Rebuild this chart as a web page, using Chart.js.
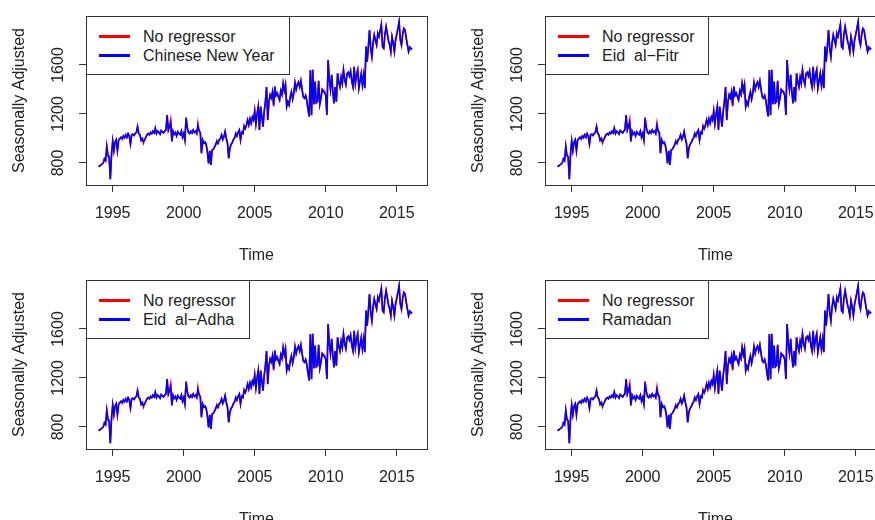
<!DOCTYPE html>
<html lang="en">
<head>
  <meta charset="UTF-8">
  <title>Seasonally adjusted series with holiday regressors</title>
  <script src="https://cdn.jsdelivr.net/npm/chart.js"></script>
  <style>
    html, body {
      margin: 0;
      padding: 0;
      background: #fff;
    }
    body {
      width: 875px;
      height: 520px;
      overflow: hidden;
      position: relative;
      font-family: "Liberation Sans", Arial, sans-serif;
    }
    .panel {
      position: absolute;
      width: 460px;
      height: 265px;
    }
    .legend {
      position: absolute;
      left: 86px;
      top: 16px;
      background: #fff;
      border: 1px solid #333;
      padding: 10px 14px 9px 12px;
      font-size: 16px;
      color: #222;
      white-space: pre;
    }
    .legend .row {
      height: 19px;
      line-height: 19px;
      display: flex;
      align-items: center;
    }
    .legend .swatch {
      width: 31px;
      height: 3px;
      margin-right: 13px;
    }
  </style>
</head>
<body>
  <div class="panel" style="left:0;top:0"><canvas id="c1" width="460" height="265"></canvas><div class="legend" id="l1"></div></div>
  <div class="panel" style="left:459px;top:0"><canvas id="c2" width="460" height="265"></canvas><div class="legend" id="l2"></div></div>
  <div class="panel" style="left:0;top:264px"><canvas id="c3" width="460" height="265"></canvas><div class="legend" id="l3"></div></div>
  <div class="panel" style="left:459px;top:264px"><canvas id="c4" width="460" height="265"></canvas><div class="legend" id="l4"></div></div>

  <script>
    // monthly series, starting January 1994
    const startYear = 1994;

    // seasonally adjusted values (with holiday regressor)
    const sa1994to1998 = [
      770, 775, 785, 790, 800, 835, 820, 935, 860, 850, 668, 870,
      980, 900, 970, 990, 900, 985, 1000, 1010, 995, 1020, 1005, 1030,
      1010, 1040, 1020, 955, 1030, 1035, 1025, 1040, 1050, 1096, 1040, 1030,
      985, 1000, 975, 990, 1010, 1030, 1040, 1030, 1050, 1040, 1060, 1045,
      1085, 1040, 1060, 1050, 1035, 1065, 1055, 1045, 1060, 1070, 1192, 1069
    ];
    const sa1999to2003 = [
      1100, 1130, 975, 1060, 1035, 1050, 1020, 1055, 1040, 1030, 1060, 1010,
      1040, 988, 1165, 1090, 1050, 1040, 1060, 1045, 1070, 1050, 1060, 1040,
      1105, 1060, 1050, 879, 988, 960, 970, 950, 892, 797, 900, 784,
      906, 910, 930, 950, 974, 960, 990, 1000, 1029, 990, 1015, 1056,
      1000, 960, 838, 920, 950, 965, 990, 1005, 1042, 1020, 1050, 1069
    ];
    const sa2004to2008 = [
      988, 1050, 1040, 1096, 1080, 1110, 1151, 1110, 1160, 1125, 1175, 1150,
      1219, 1120, 1200, 1260, 1069, 1260, 1178, 1096, 1220, 1300, 1420, 1150,
      1300, 1355, 1330, 1380, 1273, 1423, 1350, 1370, 1340, 1314, 1390, 1360,
      1450, 1390, 1440, 1260, 1300, 1273, 1340, 1380, 1320, 1370, 1451, 1400,
      1440, 1460, 1420, 1470, 1400, 1340, 1328, 1350, 1310, 1240, 1180, 1559
    ];
    const sa2009to2013 = [
      1190, 1560, 1280, 1464, 1290, 1300, 1470, 1280, 1330, 1400, 1382, 1380,
      1350, 1192, 1641, 1480, 1400, 1520, 1380, 1287, 1420, 1300, 1532, 1460,
      1420, 1500, 1450, 1559, 1480, 1440, 1530, 1540, 1510, 1550, 1470, 1423,
      1586, 1450, 1520, 1560, 1410, 1470, 1530, 1437, 1518, 1410, 1750, 1627,
      1750, 1886, 1736, 1668, 1780, 1845, 1800, 1763, 1859, 1831, 1880, 1927
    ];
    const sa2014to2016 = [
      1750, 1736, 1850, 1913, 1859, 1800, 1763, 1709, 1831, 1780, 1709, 1804,
      1850, 1899, 1953, 1804, 1763, 1850, 1899, 1886, 1820, 1763, 1709, 1745,
      1730, 1740
    ];

    // months where the "No regressor" line differs: [year, month, value]
    const noRegressorChanges = [
      [1996, 10, 1100], [1997, 3, 962], [1999, 2, 1152], [2000, 3, 1172],
      [2001, 1, 1124], [2002, 5, 982], [2004, 4, 1106], [2005, 1, 1232],
      [2006, 5, 1262], [2007, 11, 1462], [2009, 11, 1395], [2013, 12, 1936],
      [2016, 2, 1728]
    ];

    const regressorLabels = ['Chinese New Year', 'Eid  al\u2212Fitr', 'Eid  al\u2212Adha', 'Ramadan'];
    const xTicks = [1995, 2000, 2005, 2010, 2015];
    const yTicks = [800, 1000, 1200, 1400, 1600, 1800];
    const yLabelled = [800, 1200, 1600];

    const adjusted = [].concat(sa1994to1998, sa1999to2003, sa2004to2008, sa2009to2013, sa2014to2016);
    const noRegressor = adjusted.slice();
    noRegressorChanges.forEach(([yr, m, v]) => {
      noRegressor[(yr - startYear) * 12 + m - 1] = v;
    });

    const toPoints = arr => arr.map((v, i) => ({ x: startYear + i / 12, y: v }));

    Chart.defaults.font.family = '"Liberation Sans", Arial, sans-serif';
    Chart.defaults.font.size = 16;
    Chart.defaults.color = '#222';

    // full box round the plotting region, like base R graphics
    const plotBox = {
      id: 'plotBox',
      afterDraw(chart) {
        const { ctx, chartArea: a } = chart;
        ctx.save();
        ctx.strokeStyle = '#333';
        ctx.lineWidth = 1;
        ctx.strokeRect(Math.round(a.left) + 0.5, Math.round(a.top) + 0.5,
          Math.round(a.right - a.left), Math.round(a.bottom - a.top));
        ctx.restore();
      }
    };

    function makePanel(n, label) {
      const chart = new Chart(document.getElementById('c' + n), {
        type: 'line',
        data: {
          datasets: [
            { label: 'No regressor', data: toPoints(noRegressor), borderColor: '#ff0000',
              borderWidth: 1.6, pointRadius: 0, tension: 0, order: 2 },
            { label: label, data: toPoints(adjusted), borderColor: '#0000ff',
              borderWidth: 1.6, pointRadius: 0, tension: 0, order: 1 }
          ]
        },
        options: {
          responsive: false,
          animation: false,
          layout: { padding: { top: 16, right: 33, left: 0, bottom: 0 } },
          plugins: { legend: { display: false }, tooltip: { enabled: false } },
          scales: {
            x: {
              type: 'linear',
              min: 1993.12,
              max: 2017.13,
              afterBuildTicks: s => { s.ticks = xTicks.map(v => ({ value: v })); },
              afterFit: s => { s.height = 80; },
              grid: { drawOnChartArea: false, tickLength: 7, color: '#333' },
              border: { display: false },
              ticks: { padding: 12, maxRotation: 0, callback: v => String(v) },
              title: { display: true, text: 'Time', padding: { top: 0, bottom: 0 } }
            },
            y: {
              min: 620,
              max: 2000,
              afterBuildTicks: s => { s.ticks = yTicks.map(v => ({ value: v })); },
              afterFit: s => { s.width = 86; },
              grid: { drawOnChartArea: false, tickLength: 7, color: '#333' },
              border: { display: false },
              ticks: {
                padding: 3, minRotation: 90, maxRotation: 90, crossAlign: 'center',
                callback: v => yLabelled.includes(v) ? String(v) : ''
              },
              title: { display: true, text: 'Seasonally Adjusted', padding: { top: 10, bottom: 0 } }
            }
          }
        },
        plugins: [plotBox]
      });

      // R style legend box in the top left corner
      document.getElementById('l' + n).innerHTML = chart.data.datasets.map(d =>
        `<div class="row"><span class="swatch" style="background:${d.borderColor}"></span>${d.label}</div>`
      ).join('');
    }

    regressorLabels.forEach((label, i) => makePanel(i + 1, label));
  </script>
</body>
</html>
